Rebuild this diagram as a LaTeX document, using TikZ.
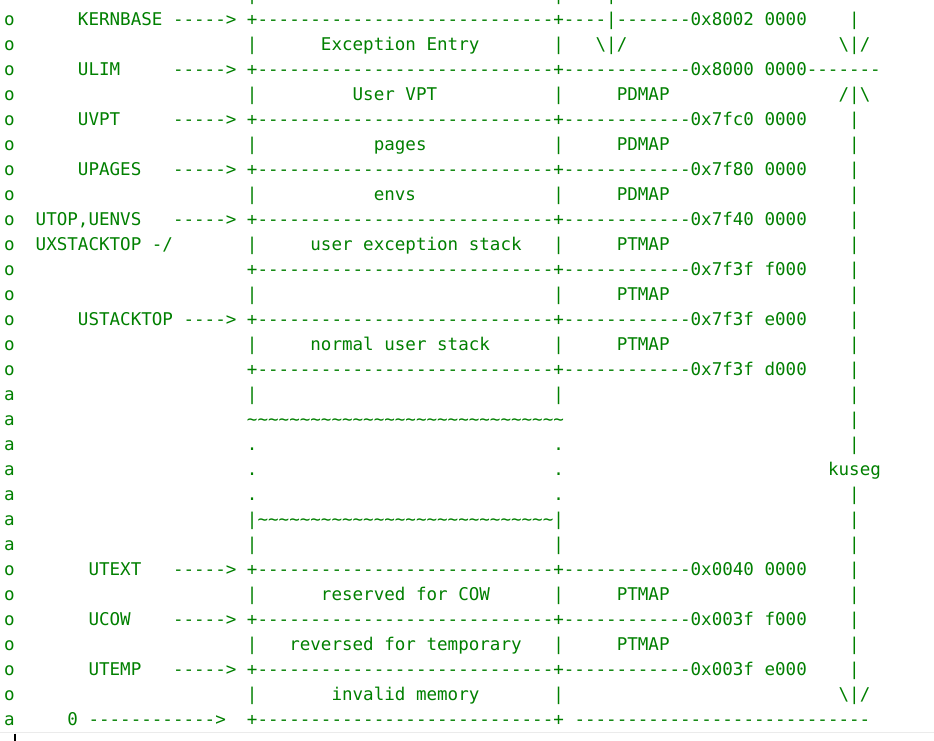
\documentclass[tikz,border=0pt]{standalone}
\usepackage{fontspec}
\setmonofont{DejaVu Sans Mono}
\definecolor{codegreen}{RGB}{0,128,0}
\newcommand\dd{----------------------------}
\newcommand\tld{\textasciitilde}
\newcommand\tldx{\tld\tld\tld\tld\tld\tld\tld\tld\tld\tld}
\newcommand\bsl{\textbackslash}
\newcommand\mline[1]{+\dd+------------#1}
\newcommand\T[3]{\node[txt] (r#1c#2) at ({4.0+#2*10.565},{25.7+25*#1}) {#3};}
\begin{document}
\begin{tikzpicture}[x=0.75pt,y=-0.75pt,
  txt/.style={anchor=base west,inner sep=0pt,outer sep=0pt,text=codegreen,
    font=\ttfamily\fontsize{13.16pt}{16pt}\selectfont}]
\useasboundingbox (0,0) rectangle (934,741);
\clip (0,0) rectangle (934,741);
\fill[white] (0,0) rectangle (934,741);
% row above the top (cut off by the edge, as in the reference)
\node[txt] (topa) at ({4.0+23*10.565},0.7) {|};
\node[txt] (topb) at ({4.0+52*10.565},0.7) {|};
\node[txt] (topc) at ({4.0+57*10.565},0.7) {|};
% row 0
\T{0}{0}{o}\T{0}{7}{KERNBASE}\T{0}{16}{----->}
\T{0}{23}{+\dd+----|-------0x8002 0000}\T{0}{80}{|}
% row 1
\T{1}{0}{o}\T{1}{23}{|}\T{1}{30}{Exception Entry}\T{1}{52}{|}
\T{1}{56}{\bsl|/}\T{1}{79}{\bsl|/}
% row 2
\T{2}{0}{o}\T{2}{7}{ULIM}\T{2}{16}{----->}\T{2}{23}{\mline{0x8000 0000-------}}
% row 3
\T{3}{0}{o}\T{3}{23}{|}\T{3}{33}{User VPT}\T{3}{52}{|}\T{3}{58}{PDMAP}\T{3}{79}{/|\bsl}
% row 4
\T{4}{0}{o}\T{4}{7}{UVPT}\T{4}{16}{----->}\T{4}{23}{\mline{0x7fc0 0000}}\T{4}{80}{|}
% row 5
\T{5}{0}{o}\T{5}{23}{|}\T{5}{35}{pages}\T{5}{52}{|}\T{5}{58}{PDMAP}\T{5}{80}{|}
% row 6
\T{6}{0}{o}\T{6}{7}{UPAGES}\T{6}{16}{----->}\T{6}{23}{\mline{0x7f80 0000}}\T{6}{80}{|}
% row 7
\T{7}{0}{o}\T{7}{23}{|}\T{7}{35}{envs}\T{7}{52}{|}\T{7}{58}{PDMAP}\T{7}{80}{|}
% row 8
\T{8}{0}{o}\T{8}{3}{UTOP,UENVS}\T{8}{16}{----->}\T{8}{23}{\mline{0x7f40 0000}}\T{8}{80}{|}
% row 9
\T{9}{0}{o}\T{9}{3}{UXSTACKTOP -/}\T{9}{23}{|}\T{9}{29}{user exception stack}\T{9}{52}{|}\T{9}{58}{PTMAP}\T{9}{80}{|}
% row 10
\T{10}{0}{o}\T{10}{23}{\mline{0x7f3f f000}}\T{10}{80}{|}
% row 11
\T{11}{0}{o}\T{11}{23}{|}\T{11}{52}{|}\T{11}{58}{PTMAP}\T{11}{80}{|}
% row 12
\T{12}{0}{o}\T{12}{7}{USTACKTOP ---->}\T{12}{23}{\mline{0x7f3f e000}}\T{12}{80}{|}
% row 13
\T{13}{0}{o}\T{13}{23}{|}\T{13}{29}{normal user stack}\T{13}{52}{|}\T{13}{58}{PTMAP}\T{13}{80}{|}
% row 14
\T{14}{0}{o}\T{14}{23}{\mline{0x7f3f d000}}\T{14}{80}{|}
% row 15
\T{15}{0}{a}\T{15}{23}{|}\T{15}{52}{|}\T{15}{80}{|}
% row 16
\T{16}{0}{a}\T{16}{23}{\tldx\tldx\tldx}\T{16}{80}{|}
% row 17
\T{17}{0}{a}\T{17}{23}{.}\T{17}{52}{.}\T{17}{80}{|}
% row 18
\T{18}{0}{a}\T{18}{23}{.}\T{18}{52}{.}\T{18}{78}{kuseg}
% row 19
\T{19}{0}{a}\T{19}{23}{.}\T{19}{52}{.}\T{19}{80}{|}
% row 20
\T{20}{0}{a}\T{20}{23}{|\tldx\tldx\tld\tld\tld\tld\tld\tld\tld\tld|}\T{20}{80}{|}
% row 21
\T{21}{0}{a}\T{21}{23}{|}\T{21}{52}{|}\T{21}{80}{|}
% row 22
\T{22}{0}{o}\T{22}{8}{UTEXT}\T{22}{16}{----->}\T{22}{23}{\mline{0x0040 0000}}\T{22}{80}{|}
% row 23
\T{23}{0}{o}\T{23}{23}{|}\T{23}{30}{reserved for COW}\T{23}{52}{|}\T{23}{58}{PTMAP}\T{23}{80}{|}
% row 24
\T{24}{0}{o}\T{24}{8}{UCOW}\T{24}{16}{----->}\T{24}{23}{\mline{0x003f f000}}\T{24}{80}{|}
% row 25
\T{25}{0}{o}\T{25}{23}{|}\T{25}{27}{reversed for temporary}\T{25}{52}{|}\T{25}{58}{PTMAP}\T{25}{80}{|}
% row 26
\T{26}{0}{o}\T{26}{8}{UTEMP}\T{26}{16}{----->}\T{26}{23}{\mline{0x003f e000}}\T{26}{80}{|}
% row 27
\T{27}{0}{o}\T{27}{23}{|}\T{27}{31}{invalid memory}\T{27}{52}{|}\T{27}{79}{\bsl|/}
% row 28
\T{28}{0}{a}\T{28}{6}{0 ------------>}\T{28}{23}{+\dd+}\T{28}{54}{\dd}
% bottom strip and cursor
\fill[black!8] (0,731.5) rectangle (934,733.2);
\draw[black,line width=1.5pt] (15,733.5) -- (15,741);
\end{tikzpicture}
\end{document}
